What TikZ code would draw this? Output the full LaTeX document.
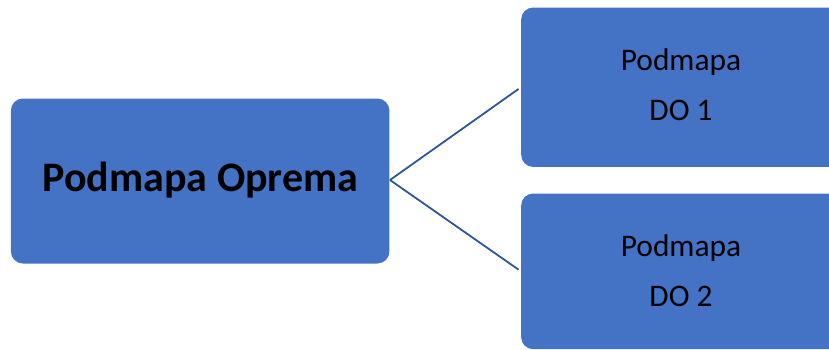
\documentclass[tikz,border=0pt]{standalone}
\usepackage{fontspec}
\setmainfont{Carlito}
\definecolor{boxblue}{HTML}{4472C4}
\definecolor{linkblue}{HTML}{2F5597}
\begin{document}
\begin{tikzpicture}[x=1pt,y=-1pt,
  box/.style={rectangle, rounded corners=12pt, fill=boxblue, draw=none,
    inner sep=0pt, anchor=north west},
  main/.style={font=\fontsize{42}{50}\selectfont\bfseries, anchor=base, inner sep=0pt},
  sub/.style={font=\fontsize{31.4}{38}\selectfont, anchor=base, inner sep=0pt},
  link/.style={draw=linkblue, line width=1.8pt, shorten >=3pt}]
\useasboundingbox (0,0) rectangle (829,349);
\clip (0,0) rectangle (829,349);
% boxes
\node[box, minimum width=378.5pt, minimum height=165pt] (root) at (10.7,98.3) {};
\node[box, minimum width=320pt, minimum height=159.4pt] (sub1) at (521,7.3) {};
\node[box, minimum width=320pt, minimum height=155.7pt] (sub2) at (521,193.3) {};
% labels
\node[main] (rootlbl) at (200.5,191.7) {Podmapa Oprema};
\node[sub] (s1a) at (681,70) {Podmapa};
\node[sub] (s1b) at (681,120) {DO 1};
\node[sub] (s2a) at (681,256.7) {Podmapa};
\node[sub] (s2b) at (681,306) {DO 2};
% connectors
\coordinate (apex) at (390,180);
\draw[link] (apex) -- (sub1.west);
\draw[link] (apex) -- (sub2.west);
\end{tikzpicture}
\end{document}
